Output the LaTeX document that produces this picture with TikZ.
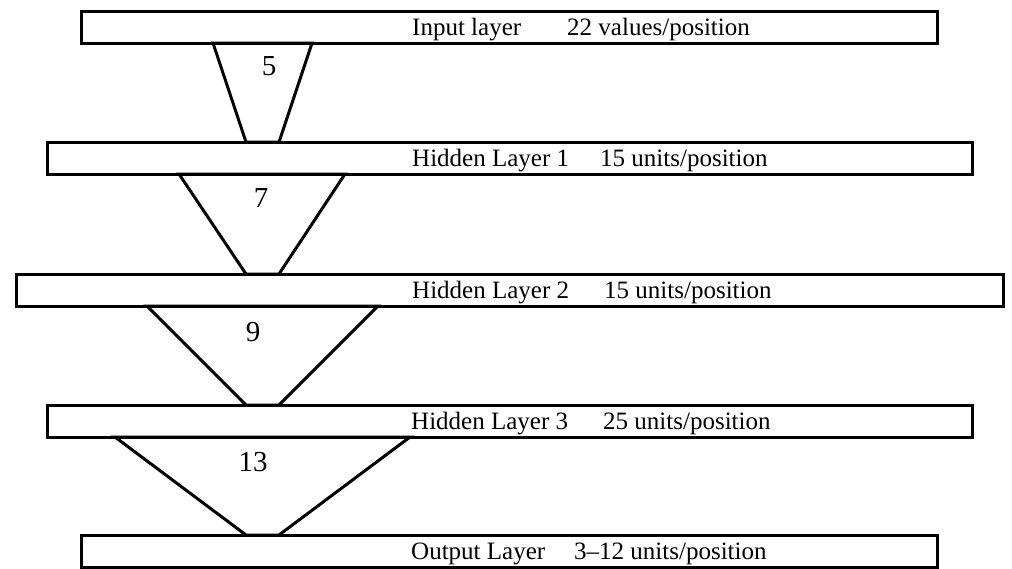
\documentclass[tikz,border=0pt]{standalone}
\usepackage{fontspec}
\setmainfont{Liberation Serif}

\tikzset{
  layerbox/.style={draw, line width=3pt, minimum height=32pt, inner sep=0pt, outer sep=0pt},
  funnel/.style={line width=3pt, line join=miter},
  layertext/.style={anchor=base west, inner sep=0pt, font=\fontsize{25}{30}\selectfont},
  winsize/.style={inner sep=0pt, font=\fontsize{29}{34}\selectfont}
}

\begin{document}
\begin{tikzpicture}[x=1pt,y=-1pt]
\useasboundingbox (0,0) rectangle (1012,568);
% layers
\node[layerbox, minimum width=856pt] (inp) at (509,27) {};
\node[layerbox, minimum width=925pt] (hid1) at (509.5,158) {};
\node[layerbox, minimum width=987pt] (hid2) at (509.5,290) {};
\node[layerbox, minimum width=925pt] (hid3) at (509.5,421) {};
\node[layerbox, minimum width=856pt] (outp) at (509,551) {};
% layer texts
\node[layertext] (inpname) at (412,35) {Input layer};
\node[layertext] (inpsize) at (567,35) {22 values/position};
\node[layertext] (hid1name) at (412,166) {Hidden Layer 1};
\node[layertext] (hid1size) at (600,166) {15 units/position};
\node[layertext] (hid2name) at (412,298) {Hidden Layer 2};
\node[layertext] (hid2size) at (604,298) {15 units/position};
\node[layertext] (hid3name) at (411,429) {Hidden Layer 3};
\node[layertext] (hid3size) at (603,429) {25 units/position};
\node[layertext] (outpname) at (411,559) {Output Layer};
\node[layertext] (outpsize) at (574,559) {3--12 units/position};
% windows
\draw[funnel] (213,0 |- inp.south) -- (246,0 |- hid1.north) -- (279,0 |- hid1.north) -- (312,0 |- inp.south) -- cycle;
\draw[funnel] (179,0 |- hid1.south) -- (246,0 |- hid2.north) -- (279,0 |- hid2.north) -- (345,0 |- hid1.south) -- cycle;
\draw[funnel] (147,0 |- hid2.south) -- (246,0 |- hid3.north) -- (279,0 |- hid3.north) -- (378,0 |- hid2.south) -- cycle;
\draw[funnel] (115,0 |- hid3.south) -- (246,0 |- outp.north) -- (279,0 |- outp.north) -- (410,0 |- hid3.south) -- cycle;
\node[winsize] (win1) at (269,66) {5};
\node[winsize] (win2) at (261,198) {7};
\node[winsize] (win3) at (253,332) {9};
\node[winsize] (win4) at (253,462) {13};
\end{tikzpicture}
\end{document}
